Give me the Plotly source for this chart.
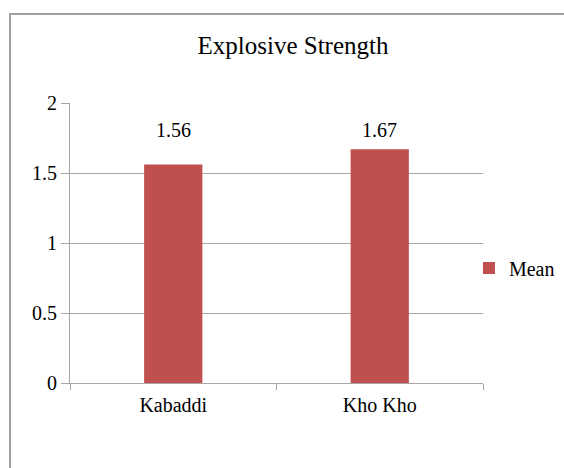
import plotly.graph_objects as go

categories = ["Kabaddi", "Kho Kho"]
mean_values = [1.56, 1.67]
value_labels = ["1.56", "1.67"]
y_ticks = [0, 0.5, 1, 1.5, 2]
y_tick_labels = ["0", "0.5", "1", "1.5", "2"]

FONT = "Liberation Serif"
GRID = "#A6A6A6"
BAR = "#C0504D"

fig = go.Figure()
fig.add_trace(go.Bar(
    x=categories, y=mean_values, name="Mean",
    marker=dict(color=BAR, line=dict(width=0)),
    width=0.282,
))

for c, v, t in zip(categories, mean_values, value_labels):
    fig.add_annotation(x=c, y=1.805, text=t, showarrow=False,
                       xref="x", yref="y", yanchor="middle",
                       font=dict(family=FONT, size=20, color="#000000"))

W, H = 564, 468
L, R, T, B = 70, 81, 103, 85
pw, ph = W - L - R, H - T - B
# chart-area border (extends past the right/bottom edges of the window)
fig.add_shape(type="rect", xref="paper", yref="paper",
              x0=(10 - L) / pw, x1=(600 - L) / pw,
              y0=-(500 - (H - B)) / ph, y1=((H - B) - 14) / ph,
              line=dict(color="#A0A0A0", width=2), fillcolor="rgba(0,0,0,0)",
              layer="below")

fig.update_layout(
    width=W, height=H,
    margin=dict(l=L, r=R, t=T, b=B, pad=0, autoexpand=False),
    paper_bgcolor="white", plot_bgcolor="white",
    font=dict(family=FONT, size=20, color="#000000"),
    title=dict(text="Explosive Strength", x=293 / W, xref="container", xanchor="center",
               y=1 - 45 / H, yref="container", yanchor="middle",
               font=dict(family=FONT, size=25, color="#000000")),
    showlegend=True,
    legend=dict(x=0.966, xanchor="left", y=(H - B - 268) / ph, yanchor="middle",
                font=dict(family=FONT, size=20, color="#000000"),
                bgcolor="rgba(0,0,0,0)", borderwidth=0, itemwidth=30),
    bargap=0.7,
)

fig.update_xaxes(
    type="category", range=[-0.5, 1.5],
    showline=True, linecolor=GRID, linewidth=1,
    ticks="outside", tickson="boundaries", ticklen=6, tickcolor=GRID, tickwidth=1,
    showgrid=False, zeroline=False,
    tickfont=dict(family=FONT, size=20, color="#000000"),
    ticklabelstandoff=4,
    fixedrange=True,
)
fig.update_yaxes(
    range=[0, 2], tickvals=y_ticks, ticktext=y_tick_labels,
    showline=True, linecolor=GRID, linewidth=1,
    ticks="outside", ticklen=8, tickcolor=GRID, tickwidth=1,
    showgrid=True, gridcolor=GRID, gridwidth=1, zeroline=False,
    tickfont=dict(family=FONT, size=20, color="#000000"),
    fixedrange=True,
)

fig.write_html("out.html")
